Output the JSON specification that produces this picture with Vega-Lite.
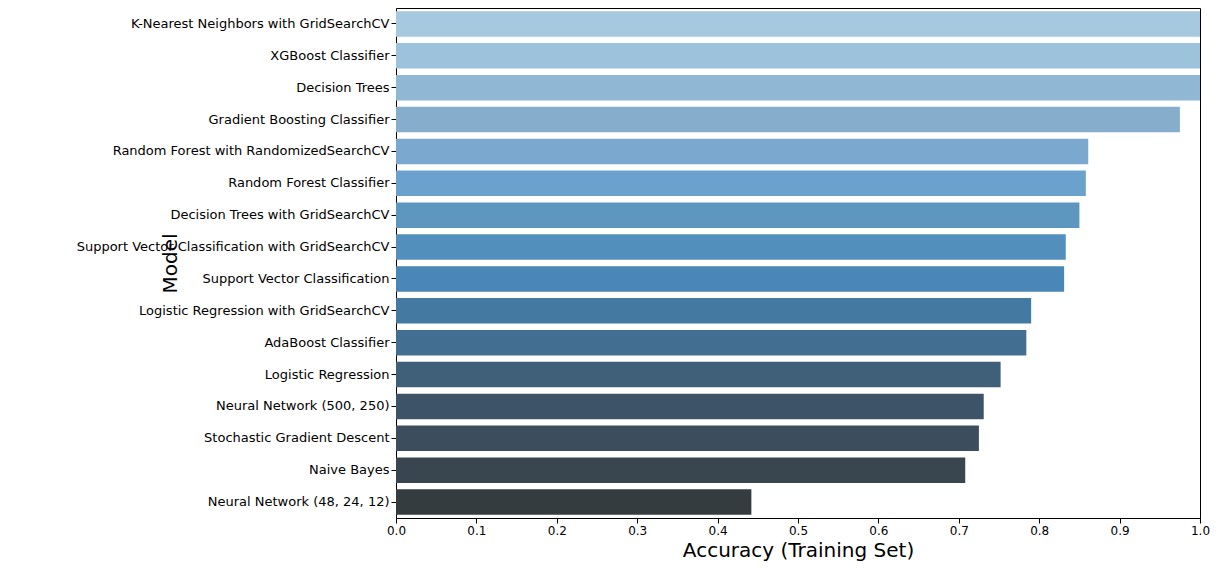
{
  "$schema": "https://vega.github.io/schema/vega-lite/v6.json",
  "width": 804,
  "height": 510,
  "autosize": {"type": "none"},
  "padding": {"left": 396, "top": 8, "right": 20, "bottom": 62},
  "background": "white",
  "data": {
    "values": [
      {"Model": "K-Nearest Neighbors with GridSearchCV", "Accuracy": 1.0},
      {"Model": "XGBoost Classifier", "Accuracy": 1.0},
      {"Model": "Decision Trees", "Accuracy": 1.0},
      {"Model": "Gradient Boosting Classifier", "Accuracy": 0.975},
      {"Model": "Random Forest with RandomizedSearchCV", "Accuracy": 0.861},
      {"Model": "Random Forest Classifier", "Accuracy": 0.858},
      {"Model": "Decision Trees with GridSearchCV", "Accuracy": 0.85},
      {"Model": "Support Vector Classification with GridSearchCV", "Accuracy": 0.833},
      {"Model": "Support Vector Classification", "Accuracy": 0.831},
      {"Model": "Logistic Regression with GridSearchCV", "Accuracy": 0.79},
      {"Model": "AdaBoost Classifier", "Accuracy": 0.784},
      {"Model": "Logistic Regression", "Accuracy": 0.752},
      {"Model": "Neural Network (500, 250)", "Accuracy": 0.731},
      {"Model": "Stochastic Gradient Descent", "Accuracy": 0.725},
      {"Model": "Naive Bayes", "Accuracy": 0.708},
      {"Model": "Neural Network (48, 24, 12)", "Accuracy": 0.442}
    ]
  },
  "mark": {"type": "bar"},
  "encoding": {
    "y": {
      "field": "Model", "type": "nominal", "sort": null, "title": "Model",
      "scale": {"paddingInner": 0.2, "paddingOuter": 0.1},
      "axis": {"labelFontSize": 13, "titleFontSize": 20, "titleFontWeight": "normal", "labelLimit": 400, "titlePadding": 16, "domain": false, "tickColor": "black"}
    },
    "x": {
      "field": "Accuracy", "type": "quantitative", "title": "Accuracy (Training Set)",
      "scale": {"domain": [0, 1], "nice": false},
      "axis": {"grid": false, "tickCount": 10, "format": ".1f", "labelFontSize": 12, "titleFontSize": 20, "titleFontWeight": "normal", "domain": false, "tickColor": "black", "labelFlush": false}
    },
    "color": {
      "field": "Model", "type": "nominal", "sort": null, "legend": null,
      "scale": {"range": ["#a6c9df", "#9cc2dc", "#90b7d3", "#86adcc", "#7aa8cf", "#6aa1cd", "#5d96be", "#528fbd", "#4a87b8", "#4479a2", "#426f91", "#405f78", "#3d5468", "#3c4d5e", "#394650", "#353c40"]}
    }
  },
  "config": {
    "font": "DejaVu Sans",
    "axis": {"labelColor": "black", "titleColor": "black"},
    "view": {"stroke": "black", "strokeWidth": 1}
  }
}
